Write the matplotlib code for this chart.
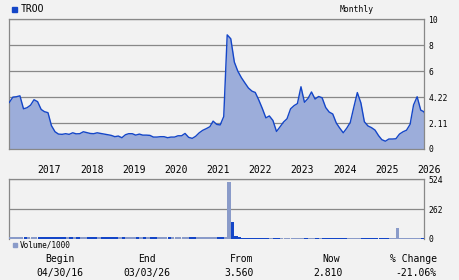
import matplotlib
matplotlib.use("Agg")
import matplotlib.pyplot as plt
import pandas as pd
import numpy as np

# ---- data ----
ticker = "TROO"
period = "Monthly"
dates = list(pd.date_range("2016-04-30", periods=119, freq="ME")) + [pd.Timestamp("2026-03-03")]
close = [
    3.59, 4.00, 4.03, 4.10, 3.10, 3.18, 3.38, 3.80, 3.65, 3.05,
    2.88, 2.80, 1.80, 1.33, 1.15, 1.13, 1.18, 1.13, 1.25, 1.17,
    1.18, 1.33, 1.27, 1.20, 1.18, 1.25, 1.20, 1.15, 1.10, 1.05,
    0.95, 1.00, 0.87, 1.10, 1.18, 1.18, 1.07, 1.15, 1.07, 1.07,
    1.05, 0.92, 0.92, 0.95, 0.95, 0.87, 0.92, 0.92, 1.02, 1.02,
    1.20, 0.90, 0.82, 0.98, 1.25, 1.44, 1.57, 1.72, 2.15, 1.90,
    1.85, 2.50, 8.80, 8.50, 6.70, 6.00, 5.50, 5.10, 4.70, 4.46,
    4.36, 3.77, 3.13, 2.40, 2.55, 2.20, 1.35, 1.70, 2.08, 2.33,
    3.10, 3.35, 3.50, 4.80, 3.60, 3.90, 4.40, 3.85, 4.05, 3.95,
    3.20, 2.85, 2.70, 2.00, 1.62, 1.25, 1.60, 2.05, 3.20, 4.35,
    3.55, 2.10, 1.78, 1.65, 1.46, 1.03, 0.72, 0.60, 0.77, 0.77,
    0.79, 1.15, 1.33, 1.45, 1.90, 3.40, 4.03, 3.00, 2.87, 2.81,
]
volume = [
    17, 19, 16, 18, 19, 17, 16, 19, 18, 17,
    19, 17, 20, 18, 17, 19, 16, 18, 17, 19,
    17, 16, 18, 17, 19, 17, 16, 18, 17, 19,
    18, 17, 19, 16, 17, 18, 19, 17, 16, 18,
    17, 19, 18, 17, 16, 18, 19, 17, 18, 17,
    19, 18, 17, 19, 18, 17, 19, 20, 19, 17,
    18, 19, 503, 152, 26, 17, 13, 12, 12, 13,
    12, 12, 13, 12, 12, 13, 12, 12, 13, 12,
    13, 12, 12, 13, 12, 12, 13, 12, 13, 12,
    12, 13, 12, 12, 13, 12, 12, 13, 12, 12,
    13, 12, 12, 13, 12, 12, 13, 12, 12, 12,
    99, 13, 12, 13, 12, 13, 12, 13, 12, 13,
]
price_ticks = [0, 2, 4, 6, 8, 10]
price_labels = ["0", "2.11", "4.22", "6", "8", "10"]
vol_ticks = [0, 262, 524]
years = [2017, 2018, 2019, 2020, 2021, 2022, 2023, 2024, 2025, 2026]
summary_heads = ["Begin", "End", "From", "Now", "% Change"]
summary_vals = ["04/30/16", "03/03/26", "3.560", "2.810", "-21.06%"]

# ---- style ----
BG = "#f2f2f2"
LINE = "#1446c8"
FILL = "#9cadda"
LIGHT = "#8a9bc9"
GRID = "#888888"
FONT = "DejaVu Sans Mono"

fig = plt.figure(figsize=(4.6, 2.8), dpi=100, facecolor=BG)
ax = fig.add_axes([9.3 / 460, 1 - 149 / 280, 415 / 460, 129.7 / 280], facecolor=BG)
axv = fig.add_axes([9.3 / 460, 1 - 239 / 280, 415 / 460, 59.7 / 280], facecolor=BG)

xd = pd.to_datetime(dates)
x0, x1 = xd[0], xd[-1]

# price panel
ax.fill_between(xd, close, 0, color=FILL, lw=0, zorder=2)
ax.plot(xd, close, color=LINE, lw=1.0, zorder=3)
ax.set_xlim(x0, x1)
ax.set_ylim(0, 10)
ax.set_yticks(price_ticks)
ax.set_yticklabels(price_labels)
ax.yaxis.tick_right()
ax.tick_params(axis="y", length=0, pad=3, labelsize=5.8, labelcolor="black")
for t in ax.get_yticklabels():
    t.set_fontfamily(FONT)
ax.set_xticks([])
ax.grid(axis="y", color=GRID, lw=0.9, zorder=1)
for s in ax.spines.values():
    s.set_color(GRID)
    s.set_linewidth(0.9)

# volume panel
colors = [LIGHT] + [LIGHT if close[i] >= close[i - 1] else LINE for i in range(1, len(close))]
widths = [30] * len(volume)
axv.bar(xd, volume, width=widths, align="edge", color=colors, lw=0, zorder=3)
axv.set_xlim(x0, x1)
axv.set_ylim(0, 524)
axv.set_yticks(vol_ticks)
axv.set_yticklabels([str(v) for v in vol_ticks])
axv.yaxis.tick_right()
axv.tick_params(axis="y", length=0, pad=3, labelsize=5.8)
for t in axv.get_yticklabels():
    t.set_fontfamily(FONT)
axv.grid(axis="y", color=GRID, lw=0.9, zorder=1)
for s in axv.spines.values():
    s.set_color(GRID)
    s.set_linewidth(0.9)
axv.spines["bottom"].set_visible(False)

year_pos = [pd.Timestamp(f"{y}-01-01") for y in years]
axv.set_xticks(year_pos)
axv.set_xticklabels([str(y) for y in years])
axv.xaxis.tick_top()
axv.tick_params(axis="x", length=0, pad=3, labelsize=7)
for t in axv.get_xticklabels():
    t.set_fontfamily(FONT)
    t.set_horizontalalignment("left")

# header
fig.patches.append(plt.Rectangle((12 / 460, 1 - 12 / 280), 5 / 460, 5 / 280,
                                 transform=fig.transFigure, color=LINE))
fig.text(21 / 460, 1 - 9 / 280, ticker, fontsize=7, family=FONT, va="center", ha="left")
fig.text(357 / 460, 1 - 9 / 280, period, fontsize=5.8, family=FONT, va="center", ha="center")

# volume legend
fig.patches.append(plt.Rectangle((13 / 460, 1 - 247 / 280), 4 / 460, 4 / 280,
                                 transform=fig.transFigure, color=LIGHT))
fig.text(20 / 460, 1 - 245 / 280, "Volume/1000", fontsize=5.6, family=FONT, va="center", ha="left")

# summary
head_x = [60, 146.7, 241.5, 331.5, 414]
val_x = [60, 146.7, 239, 328, 416]
for hx, vx, h, v in zip(head_x, val_x, summary_heads, summary_vals):
    fig.text(hx / 460, 1 - 259.3 / 280, h, fontsize=7, family=FONT, va="center", ha="center")
    fig.text(vx / 460, 1 - 272.7 / 280, v, fontsize=7, family=FONT, va="center", ha="center")

fig.savefig("out.png", dpi=100, facecolor=BG)
